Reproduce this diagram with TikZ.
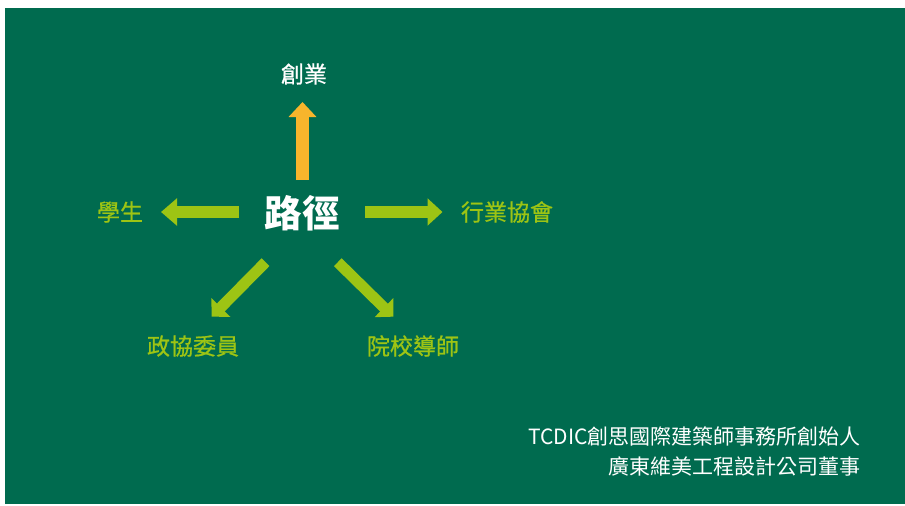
\documentclass[tikz,border=0pt]{standalone}
\usepackage{fontspec}
\setmainfont{Noto Sans CJK TC}
\newfontfamily\medfont[FakeBold=0.8]{Noto Sans CJK TC}
\usetikzlibrary{arrows.meta}
\definecolor{bggreen}{HTML}{006B4F}
\definecolor{lime}{HTML}{9DC414}
\definecolor{amber}{HTML}{F7B52C}
\tikzset{
  blockarrow/.style={draw=#1, line width=12pt, -{Triangle[length=15pt,width=27pt]}},
  diagarrow/.style={draw=lime, line width=11pt, -{Triangle[length=13pt,width=26pt]}},
  limelabel/.style={text=lime, font=\medfont\fontsize{23}{26}\selectfont, inner sep=0pt},
  whitelabel/.style={text=white, inner sep=0pt},
  footer/.style={text=white, font=\fontsize{21}{24}\selectfont, inner sep=0pt, anchor=east}
}
\begin{document}
\begin{tikzpicture}[x=1pt,y=-1pt]
\useasboundingbox (0,0) rectangle (905,506);
\fill[bggreen] (5,8) rectangle (905,504);
\node[whitelabel, font=\fontsize{37.5}{42}\selectfont\bfseries] (center) at (302,213) {路徑};
\node[whitelabel, font=\medfont\fontsize{23}{26}\selectfont] (startup) at (304,74) {創業};
\node[limelabel] (student) at (120,212) {學生};
\node[limelabel] (assoc) at (507,212) {行業協會};
\node[limelabel] (cppcc) at (193,346) {政協委員};
\node[limelabel] (mentor) at (413,346) {院校導師};
\node[footer] (f1) at (861,436) {TCDIC創思國際建築師事務所創始人};
\node[footer] (f2) at (861,467) {廣東維美工程設計公司董事};
\coordinate (upT) at (302.5,180);
\coordinate (upH) at (302.5,102);
\coordinate (lT) at (239,212);
\coordinate (lH) at (161,212);
\coordinate (rT) at (365,212);
\coordinate (rH) at (442.5,212);
\coordinate (dlT) at (265.5,262.2);
\coordinate (dlH) at (211.7,316.7);
\coordinate (drT) at (337.8,262.2);
\coordinate (drH) at (393.3,316.7);
\draw[blockarrow=amber, line width=13pt] (upT) -- (upH);
\draw[blockarrow=lime, -{Triangle[length=16pt,width=26.5pt]}] (lT) -- (lH);
\draw[blockarrow=lime, -{Triangle[length=15pt,width=26.5pt]}] (rT) -- (rH);
\draw[diagarrow] (dlT) -- (dlH);
\draw[diagarrow] (drT) -- (drH);
\end{tikzpicture}
\end{document}
